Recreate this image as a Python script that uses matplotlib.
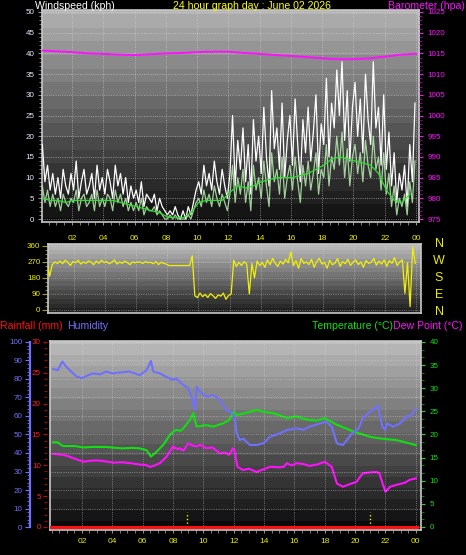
import numpy as np
import matplotlib
matplotlib.use("Agg")
import matplotlib.pyplot as plt
from matplotlib.ticker import MultipleLocator, AutoMinorLocator

plt.rcParams['font.family'] = ['Liberation Sans', 'DejaVu Sans']

# ---- data ----
# wind samples every 10 minutes
t10 = 0.1 + np.arange(144) / 6.0
gust = [18, 9, 13, 7, 11, 6,
        10, 5, 12, 8, 6, 11,
        7, 14, 5, 9, 12, 6,
        8, 11, 5, 13, 7, 10,
        6, 12, 9, 5, 13, 8,
        11, 6, 10, 4, 8, 5,
        7, 4, 9, 3, 6, 5,
        4, 6, 2, 5, 3, 2,
        1, 2, 1, 3, 1, 0,
        2, 0, 3, 1, 4, 7,
        9, 6, 13, 8, 11, 7,
        14, 9, 6, 12, 8, 5,
        11, 25, 8, 19, 12, 22,
        9, 18, 6, 24, 14, 20,
        11, 27, 15, 8, 31, 17,
        22, 12, 28, 10, 19, 25,
        13, 29, 18, 9, 24, 16,
        27, 14, 21, 30, 11, 23,
        18, 34, 15, 28, 22, 36,
        25, 38, 19, 31, 14, 27,
        33, 20, 29, 16, 35, 24,
        18, 38, 22, 27, 13, 30,
        12, 21, 8, 16, 4, 11,
        7, 13, 3, 18, 9, 28]
wind = [8, 4, 7, 3, 6, 3,
        5, 2, 6, 4, 3, 5,
        4, 7, 2, 5, 6, 3,
        4, 6, 2, 7, 3, 5,
        3, 6, 5, 2, 7, 4,
        6, 3, 5, 2, 4, 2,
        4, 2, 5, 1, 3, 2,
        2, 3, 1, 2, 1, 0,
        0, 1, 0, 1, 0, 0,
        0, 0, 1, 0, 2, 4,
        5, 3, 7, 4, 6, 3,
        8, 5, 3, 6, 4, 2,
        6, 13, 4, 10, 6, 12,
        4, 9, 2, 13, 7, 10,
        5, 14, 8, 3, 16, 9,
        12, 6, 15, 5, 10, 13,
        7, 15, 9, 4, 13, 8,
        14, 7, 11, 16, 6, 12,
        10, 18, 8, 15, 12, 20,
        13, 21, 10, 17, 8, 15,
        18, 11, 16, 9, 19, 13,
        10, 20, 12, 15, 7, 16,
        6, 11, 3, 8, 1, 5,
        3, 6, 1, 9, 4, 14]
t30 = 0.1 + np.arange(48) / 2.0
wind_avg = [5, 4.5, 4.5, 4, 4.5, 4.5, 4.5, 4.5, 4.5, 4.5, 4, 3.5,
            3, 2.5, 2, 1.5, 0.5, 0.3, 0.3, 1.5, 4, 4.5, 4.5, 4.5,
            6.5, 8, 7.5, 8, 9, 9.5, 10, 10, 10, 10.5, 11, 12,
            13, 14.5, 15, 14.5, 14, 13.5, 13, 11, 7, 4.5, 4, 6]
baro_hours = np.arange(25)
baro = [1015.7, 1015.5, 1015.3, 1015.0, 1014.9, 1014.7, 1014.6, 1014.8,
        1015.0, 1015.1, 1015.3, 1015.4, 1015.4, 1015.1, 1014.9, 1014.6,
        1014.4, 1014.1, 1013.8, 1013.6, 1013.6, 1013.8, 1014.2, 1014.7,
        1014.9]
wind_dir = [265, 270, 190, 255, 270, 262,
            275, 260, 280, 268, 250, 272,
            265, 280, 258, 270, 262, 276,
            268, 255, 275, 262, 280, 266,
            272, 260, 268, 282, 258, 270,
            262, 275, 266, 255, 270, 265,
            270, 268, 262, 272, 266, 268,
            260, 272, 255, 268, 262, 258,
            250, 250, 250, 250, 250, 250,
            250, 250, 250, 305, 80, 70,
            95, 75, 88, 70, 92, 80,
            65, 85, 78, 95, 60, 82,
            90, 280, 245, 268, 250, 272,
            258, 90, 262, 180, 275, 250,
            268, 240, 282, 255, 290, 262,
            245, 275, 258, 285, 265, 327,
            250, 278, 235, 290, 262, 270,
            255, 285, 240, 272, 290, 258,
            268, 235, 280, 255, 262, 290,
            245, 272, 260, 285, 250, 268,
            282, 255, 270, 240, 278, 262,
            268, 290, 252, 275, 258, 282,
            245, 278, 262, 295, 250, 270,
            282, 94, 265, 19, 355, 262]

humidity = [(0.1, 85.4), (0.4, 84.7), (0.72, 89.4), (1.0, 86.3), (1.3, 84), (1.65, 81.3),
            (2.0, 80.4), (2.4, 82), (2.75, 83), (3.2, 82.5), (3.6, 84), (4.0, 83),
            (4.5, 83.5), (5.1, 84), (5.5, 83), (5.8, 82), (6.26, 84.7), (6.55, 89.7),
            (6.7, 84), (7.14, 83), (7.58, 81), (8.0, 79.5), (8.2, 80.4), (8.5, 78),
            (8.68, 76.8), (9.0, 75), (9.23, 70.4), (9.45, 63.2), (9.56, 75.8), (9.78, 73),
            (10.2, 70.4), (10.65, 71.3), (11.1, 68.6), (11.5, 63.2), (11.85, 62), (12.05, 59.6),
            (12.2, 50.6), (12.4, 47), (12.63, 47.7), (13.07, 44.3), (13.5, 44.3), (13.95, 45.2),
            (14.4, 48.8), (15.05, 50.6), (15.5, 52.4), (16.15, 53.3), (16.6, 52.5), (17.0, 54.2),
            (17.7, 56), (18.1, 57), (18.46, 54.2), (18.8, 45.2), (19.2, 44.3), (19.8, 50.6),
            (20.23, 53.3), (20.5, 58.7), (20.98, 62.3), (21.53, 65.4), (21.6, 61.5), (21.8, 54.2),
            (21.98, 52.4), (22.1, 56), (22.5, 54.2), (22.96, 56), (23.4, 59.6), (23.7, 60.5),
            (24.0, 63.6)]
temperature = [(0.1, 18.3), (0.4, 18.3), (0.75, 17.5), (1.5, 17.5), (2.1, 17.2), (2.75, 17.3),
               (3.6, 17.3), (4.2, 17.1), (4.7, 17.0), (5.3, 17.1), (5.8, 17.0), (6.26, 16.6),
               (6.55, 15.2), (6.9, 16.2), (7.35, 17.7), (7.8, 19.9), (8.0, 20.5), (8.2, 21.0),
               (8.5, 20.8), (8.68, 21.3), (9.1, 23.1), (9.34, 24.6), (9.56, 21.7), (10.2, 22.0),
               (10.65, 21.7), (11.3, 22.4), (11.7, 23.1), (12.0, 24.9), (12.2, 24.2), (12.6, 24.5),
               (13.07, 24.9), (13.5, 25.3), (13.95, 24.9), (14.6, 24.6), (15.0, 24.2), (15.5, 23.5),
               (16.15, 23.9), (16.6, 23.4), (17.0, 23.1), (17.5, 23.0), (18.0, 23.5), (18.4, 22.8),
               (18.8, 22.1), (19.4, 21.3), (19.9, 20.6), (20.5, 20.0), (20.98, 19.5), (21.5, 19.2),
               (22.0, 19.0), (22.7, 18.8), (23.3, 18.3), (24.0, 17.7)]
dew_point = [(0.1, 15.8), (0.75, 15.6), (1.1, 15.3), (1.5, 14.8), (2.1, 14.1), (2.5, 14.3),
             (3.0, 14.4), (3.5, 14.2), (4.1, 13.9), (4.6, 14.0), (5.2, 13.8), (5.8, 13.5),
             (6.2, 13.4), (6.5, 13.0), (6.8, 13.3), (7.14, 13.8), (7.58, 15.2), (8.0, 17.4),
             (8.3, 16.8), (8.45, 17.0), (8.7, 16.5), (9.0, 18.1), (9.3, 17.6), (9.56, 17.4),
             (9.8, 17.8), (10.2, 17.0), (10.6, 17.2), (11.1, 15.9), (11.4, 16.1), (11.7, 15.6),
             (11.95, 17.0), (12.05, 16.6), (12.25, 13.0), (12.63, 12.3), (13.0, 12.6), (13.5, 11.9),
             (13.9, 12.4), (14.4, 13.0), (15.0, 12.9), (15.3, 13.0), (15.5, 13.8), (15.8, 13.3),
             (16.15, 13.8), (16.6, 13.6), (17.0, 13.2), (17.5, 13.5), (18.0, 14.1), (18.46, 13.0),
             (18.8, 9.4), (19.2, 8.7), (19.6, 9.2), (20.1, 9.8), (20.5, 11.6), (21.0, 11.8),
             (21.4, 11.9), (21.6, 11.6), (21.8, 9.5), (22.0, 7.6), (22.3, 8.7), (22.6, 9.0),
             (22.96, 9.3), (23.3, 9.6), (23.6, 10.2), (24.0, 10.5)]
rain_hours = [-0.2, 24.1]
rain = [0, 0]
rain_marks = [8.9, 21.0]
rain_mark_height = 2.5

hour_ticks = np.arange(2, 25, 2)
hour_labels = ['02', '04', '06', '08', '10', '12', '14', '16', '18', '20', '22', '00']
compass = ['N', 'W', 'S', 'E', 'N']

# ---- style ----
W, H = 466, 555
YELLOW = '#ecec00'
MAGENTA = '#ff10ff'
GREEN = '#10e010'
BLUE = '#7070ff'
RED = '#ff1010'


def px_rect(left, top, right, bottom):
    return [left / W, 1 - bottom / H, (right - left) / W, (bottom - top) / H]


def shade(ax, top, bottom):
    grad = np.linspace(top, bottom, 256)
    grad = np.round(grad * 24) / 24
    ax.imshow(grad.reshape(-1, 1), extent=[0, 1, 0, 1], transform=ax.transAxes,
              aspect='auto', cmap='gray', vmin=0, vmax=1, zorder=0,
              interpolation='nearest')


def frame(ax):
    for side in ['top', 'right', 'left', 'bottom']:
        ax.spines[side].set_color('#c8c8c8')
        ax.spines[side].set_linewidth(1.2)


fig = plt.figure(figsize=(W / 100, H / 100), dpi=100)
fig.patch.set_facecolor('black')

# ---- windspeed / barometer ----
ax1 = fig.add_axes(px_rect(42, 10, 419, 222))
shade(ax1, 0.70, 0.05)
ax1.plot(t10, gust, color='white', lw=0.9, zorder=3)
ax1.plot(t10, wind, color='#b8eeb0', lw=0.9, alpha=0.85, zorder=4)
ax1.plot(t30, wind_avg, color='#30e030', lw=0.9, zorder=5)
ax1.set_xlim(0.08, 24.19)
ax1.set_ylim(-0.72, 50.48)
ax1.grid(True, color='#d8d8d8', linestyle=':', linewidth=0.6, alpha=0.7)
frame(ax1)

ax1b = ax1.twinx()
ax1b.plot(baro_hours, baro, color=MAGENTA, lw=1.4, zorder=6)
ax1b.set_ylim(975 - 0.72, 1025.48)
ax1b.yaxis.set_major_locator(MultipleLocator(5))
ax1b.yaxis.set_minor_locator(MultipleLocator(1))
ax1b.tick_params(axis='y', colors=MAGENTA, labelcolor=MAGENTA, labelsize=5.8,
                 length=3, pad=3, which='major')
ax1b.tick_params(axis='y', colors='#b000b0', length=2, which='minor')
for side in ax1b.spines.values():
    side.set_visible(False)

# ticks of ax1 after twinx (twinx moves them)
ax1.yaxis.tick_left()
ax1.yaxis.set_major_locator(MultipleLocator(5))
ax1.yaxis.set_minor_locator(MultipleLocator(1))
ax1.set_xticks(hour_ticks)
ax1.set_xticklabels(hour_labels)
ax1.xaxis.set_minor_locator(MultipleLocator(0.5))
ax1.tick_params(axis='y', colors='#909090', labelcolor='#e6ecff', labelsize=5.8,
                length=3, pad=2.5, which='major')
ax1.tick_params(axis='y', colors='#909090', length=2, which='minor')
ax1.tick_params(axis='x', colors='#909090', labelcolor=YELLOW, labelsize=6,
                length=2, pad=7, which='both')

# ---- wind direction ----
ax2 = fig.add_axes(px_rect(48, 244, 421, 313))
shade(ax2, 0.74, 0.10)
ax2.plot(t10, wind_dir, color='#f0f000', lw=0.9, zorder=3)
ax2.set_xlim(0.33, 24.3)
ax2.set_ylim(-16.9, 371)
ax2.set_yticks([0, 90, 180, 270, 360])
ax2.yaxis.set_minor_locator(MultipleLocator(22.5))
ax2.set_xticks(hour_ticks)
ax2.tick_params(axis='x', labelbottom=False, length=0)
ax2.tick_params(axis='y', colors='#a0a000', labelcolor=YELLOW, labelsize=5.8,
                length=4, pad=1.5, which='major')
ax2.tick_params(axis='y', colors='#a0a000', length=2, which='minor')
ax2.grid(True, color='#d8d8d8', linestyle=':', linewidth=0.6, alpha=0.6)
frame(ax2)
for i, letter in enumerate(compass):
    fig.text(439 / W, 1 - (244.5 + i * 16.8) / H, letter, color=YELLOW,
             fontsize=9, ha='center', va='center')

# ---- humidity / rain / temperature / dew point ----
ax3 = fig.add_axes(px_rect(50, 341, 421, 530))
shade(ax3, 0.74, 0.03)
th, tv = np.array(temperature).T
dh, dv = np.array(dew_point).T
ax3.plot(th, tv, color=GREEN, lw=1.5, zorder=4)
ax3.plot(dh, dv, color=MAGENTA, lw=1.5, zorder=4)
ax3.set_xlim(-0.1, 24.34)
ax3.set_ylim(-0.65, 40.2)
ax3.grid(True, axis='x', color='#d8d8d8', linestyle=':', linewidth=0.6, alpha=0.6)
frame(ax3)

axh = ax3.twinx()
hh, hv = np.array(humidity).T
axh.plot(hh, hv, color=BLUE, lw=1.5, zorder=3)
axh.set_ylim(-1.6, 100.5)
axh.yaxis.set_ticks_position('left')
axh.yaxis.set_label_position('left')
axh.spines['left'].set_position(('axes', -0.054))
axh.spines['left'].set_visible(True)
axh.spines['left'].set_color(BLUE)
axh.spines['left'].set_linewidth(1.6)
axh.spines['left'].set_bounds(0, 100)
for side in ['top', 'right', 'bottom']:
    axh.spines[side].set_visible(False)
axh.yaxis.set_major_locator(MultipleLocator(10))
axh.yaxis.set_minor_locator(MultipleLocator(2))
axh.tick_params(axis='y', colors=BLUE, labelcolor=BLUE, labelsize=5.8,
                length=3.5, pad=2, which='major')
axh.tick_params(axis='y', colors=BLUE, length=2, which='minor')
axh.grid(True, axis='y', color='#d8d8d8', linestyle=':', linewidth=0.6, alpha=0.6)

axr = ax3.twinx()
axr.plot(rain_hours, rain, color=RED, lw=2.2, zorder=5)
axr.vlines(rain_marks, 0, rain_mark_height, colors=YELLOW, linestyles=':', lw=1)
axr.set_ylim(-0.49, 30.16)
axr.yaxis.set_ticks_position('left')
axr.spines['left'].set_position(('axes', -0.008))
axr.spines['left'].set_visible(False)
for side in ['top', 'right', 'bottom']:
    axr.spines[side].set_visible(False)
axr.yaxis.set_major_locator(MultipleLocator(5))
axr.yaxis.set_minor_locator(MultipleLocator(1))
axr.tick_params(axis='y', colors='#d00000', labelcolor='#ff2020', labelsize=5.8,
                length=3, pad=1.5, which='major')
axr.tick_params(axis='y', colors='#d00000', length=2, which='minor')

# temperature ticks on the right of the base axes, set after the twins
ax3.yaxis.tick_right()
ax3.tick_params(axis='y', left=False, labelleft=False, right=True, labelright=True)
ax3.yaxis.set_major_locator(MultipleLocator(5))
ax3.yaxis.set_minor_locator(AutoMinorLocator(3))
ax3.set_xticks(hour_ticks)
ax3.set_xticklabels(hour_labels)
ax3.xaxis.set_minor_locator(MultipleLocator(0.5))
ax3.tick_params(axis='y', colors=GREEN, labelcolor=GREEN, labelsize=5.8,
                length=3, pad=3, which='major')
ax3.tick_params(axis='y', colors='#00a000', length=2, which='minor')
ax3.tick_params(axis='x', colors='#909090', labelcolor=YELLOW, labelsize=6,
                length=2, pad=4, which='both')

# ---- titles ----
fig.text(35 / W, 1 - 6 / H, 'Windspeed (kph)', color='white', fontsize=7.6, va='center')
fig.text(252 / W, 1 - 6 / H, '24 hour graph day : June 02 2026', color='#ffff00',
         fontsize=7.6, va='center', ha='center')
fig.text(465 / W, 1 - 6 / H, 'Barometer (hpa)', color=MAGENTA, fontsize=7.6,
         va='center', ha='right')
fig.text(0.5 / W, 1 - 326 / H, 'Rainfall (mm)', color=RED, fontsize=7.6, va='center')
fig.text(67 / W, 1 - 326 / H, 'Humidity', color=BLUE, fontsize=7.6, va='center')
fig.text(393 / W, 1 - 326 / H, 'Temperature (°C)', color=GREEN, fontsize=7.6,
         va='center', ha='right')
fig.text(393 / W, 1 - 326 / H, 'Dew Point (°C)', color=MAGENTA, fontsize=7.6,
         va='center', ha='left')

fig.savefig('out.png', dpi=100, facecolor='black')
